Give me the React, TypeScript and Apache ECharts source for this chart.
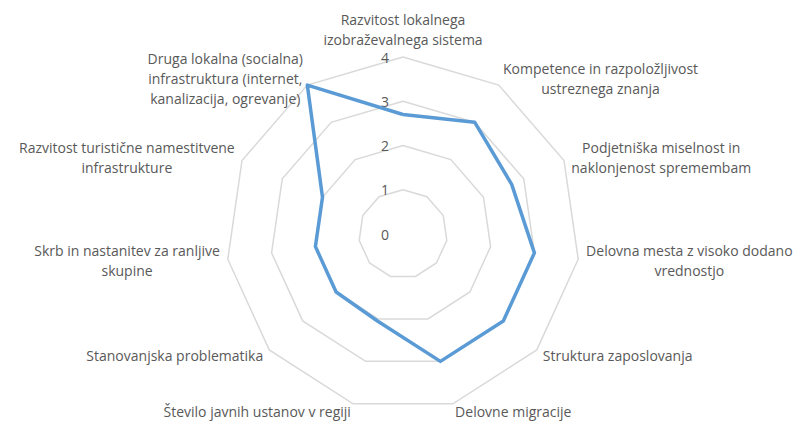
import React, { useEffect, useRef } from "react";
import * as echarts from "echarts";

const categories: string[] = [
  "Razvitost lokalnega\nizobraževalnega sistema",
  "Kompetence in razpoložljivost\nustreznega znanja",
  "Podjetniška miselnost in\nnaklonjenost spremembam",
  "Delovna mesta z visoko dodano\nvrednostjo",
  "Struktura zaposlovanja",
  "Delovne migracije",
  "Število javnih ustanov v regiji",
  "Stanovanjska problematika",
  "Skrb in nastanitev za ranljive\nskupine",
  "Razvitost turistične namestitvene\ninfrastrukture",
  "Druga lokalna (socialna)\ninfrastruktura (internet,\nkanalizacija, ogrevanje)",
];

const values: number[] = [2.7, 3.0, 2.7, 3.0, 3.0, 3.0, 2.05, 2.0, 2.0, 2.0, 4.0];

const axisMin = 0;
const axisMax = 4;
const axisSplits = 4;

const FONT = "Open Sans";
const FONT_SIZE = 14;
const TEXT_COLOR = "#595959";

export default function App() {
  const ref = useRef<HTMLDivElement>(null);
  useEffect(() => {
    if (!ref.current) return;
    const chart = echarts.init(ref.current, null, { renderer: "svg" });
    // ECharts places indicators counter-clockwise; reorder to get clockwise order
    const order = [0, ...categories.map((_, i) => i).slice(1).reverse()];
    const indicator = order.map((i, k) => ({
      name: categories[i],
      min: axisMin,
      max: axisMax,
      ...(k === 0 ? { axisLabel: { show: true } } : {}),
    }));
    const data = order.map((i) => values[i]);
    chart.setOption({
      animation: false,
      radar: {
        center: [403, 234],
        radius: 177,
        shape: "polygon",
        splitNumber: axisSplits,
        startAngle: 90,
        nameGap: 8,
        indicator,
        axisName: {
          color: TEXT_COLOR,
          fontFamily: FONT,
          fontSize: FONT_SIZE,
          lineHeight: 20,
          formatter: (name: string) =>
            name
              .split("\n")
              .map((l) => `{c|${l}}`)
              .join("\n"),
          rich: {
            c: {
              align: "center",
              color: TEXT_COLOR,
              fontFamily: FONT,
              fontSize: FONT_SIZE,
              lineHeight: 20,
            },
          },
        },
        axisLine: { show: false },
        axisTick: { show: false },
        axisLabel: {
          show: false,
          color: TEXT_COLOR,
          fontFamily: FONT,
          fontSize: 14,
          margin: 14,
        },
        splitLine: { lineStyle: { color: "#d9d9d9", width: 1.5 } },
        splitArea: { show: false },
      },
      series: [
        {
          type: "radar",
          symbol: "none",
          lineStyle: { color: "#5b9bd5", width: 3.5 },
          data: [{ value: data }],
        },
      ],
    });
    return () => chart.dispose();
  }, []);
  return (
    <div
      ref={ref}
      style={{ position: "absolute", left: 0, top: 0, width: 801, height: 421, background: "#fff" }}
    />
  );
}
